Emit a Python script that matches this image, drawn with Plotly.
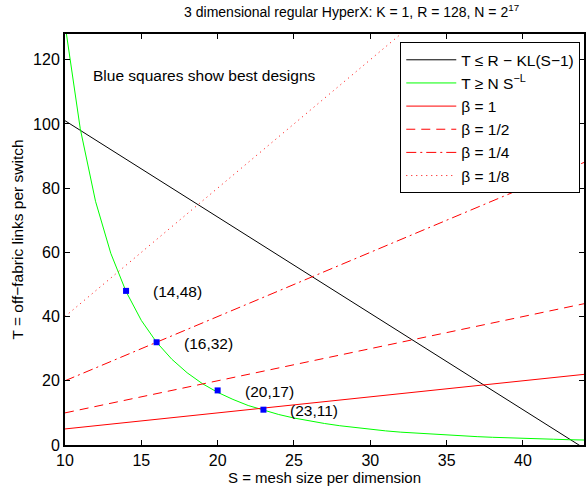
import plotly.graph_objects as go

# Data
S_vals = list(range(10, 45))
T_green = [131.1, 98.5, 75.9, 59.7, 47.8, 38.8, 32.0, 26.7, 22.5, 19.1, 16.4,
           14.2, 12.3, 10.8, 9.5, 8.4, 7.5, 6.7, 6.0, 5.4, 4.9, 4.4, 4.0, 3.7,
           3.3, 3.1, 2.8, 2.6, 2.4, 2.2, 2.05, 1.9, 1.8, 1.65, 1.55]
S_black = [10, 44]
T_black = [101, -1]
S_ends = [10, 44]
T_beta1 = [5, 22]
T_beta2 = [10, 44]
T_beta4 = [20, 88]
S_beta8 = [10, 32]
T_beta8 = [40, 128]
best_S = [14, 16, 20, 23]
best_T = [48, 32, 17, 11]
best_labels = ["(14,48)", "(16,32)", "(20,17)", "(23,11)"]

FONT = "Liberation Sans, Arial, sans-serif"

fig = go.Figure()
fig.add_trace(go.Scatter(x=S_black, y=T_black, mode="lines",
                         line=dict(color="black", width=1),
                         name="T \u2264 R \u2212 KL(S\u22121)"))
fig.add_trace(go.Scatter(x=S_vals, y=T_green, mode="lines",
                         line=dict(color="#00ff00", width=1),
                         name="T \u2265 N S<sup>\u2212L</sup>"))
fig.add_trace(go.Scatter(x=S_ends, y=T_beta1, mode="lines",
                         line=dict(color="#ff0000", width=1),
                         name="\u03b2 = 1"))
fig.add_trace(go.Scatter(x=S_ends, y=T_beta2, mode="lines",
                         line=dict(color="#ff0000", width=1, dash="9px,6px"),
                         name="\u03b2 = 1/2"))
fig.add_trace(go.Scatter(x=S_ends, y=T_beta4, mode="lines",
                         line=dict(color="#ff0000", width=1, dash="10px,4px,2px,4px"),
                         name="\u03b2 = 1/4"))
fig.add_trace(go.Scatter(x=S_beta8, y=T_beta8, mode="lines",
                         line=dict(color="#ff0000", width=1, dash="1px,4px"),
                         name="\u03b2 = 1/8"))
fig.add_trace(go.Scatter(x=best_S, y=best_T, mode="markers",
                         marker=dict(symbol="square", size=6, color="#0000ff"),
                         showlegend=False))

for sx, ty, lab in zip(best_S, best_T, best_labels):
    fig.add_annotation(x=sx, y=ty, text=lab, showarrow=False, xanchor="left",
                       yanchor="middle", xshift=25, yshift=-1,
                       font=dict(family=FONT, size=15.5, color="black"))

fig.add_annotation(x=11.7, y=115, text="Blue squares show best designs",
                   showarrow=False, xanchor="left", yanchor="middle",
                   font=dict(family=FONT, size=15.5, color="black"))

fig.update_layout(
    width=586, height=489,
    margin=dict(l=65, r=0, t=34, b=44),
    paper_bgcolor="white", plot_bgcolor="white",
    font=dict(family=FONT, size=15, color="black"),
    title=dict(text="3 dimensional regular HyperX: K = 1, R = 128, N = 2<sup>17</sup>",
               x=0.60, xanchor="center", y=0.975, yanchor="middle",
               font=dict(family=FONT, size=14, color="black")),
    legend=dict(x=0.646, y=0.98, xanchor="left", yanchor="top",
                bgcolor="white", bordercolor="black", borderwidth=1,
                font=dict(family=FONT, size=15.5, color="black"),
                itemwidth=50, tracegroupgap=0),
    showlegend=True,
)
fig.update_xaxes(range=[10, 44], tickvals=[10, 15, 20, 25, 30, 35, 40],
                 ticks="inside", ticklen=5, tickcolor="black",
                 showline=True, linecolor="black", linewidth=2, mirror="ticks",
                 showgrid=False, zeroline=False,
                 tickfont=dict(family=FONT, size=16),
                 title=dict(text="S = mesh size per dimension", standoff=2,
                            font=dict(family=FONT, size=15)))
fig.update_yaxes(range=[0, 128], tickvals=[0, 20, 40, 60, 80, 100, 120],
                 ticks="inside", ticklen=5, tickcolor="black",
                 showline=True, linecolor="black", linewidth=2, mirror="ticks",
                 showgrid=False, zeroline=False,
                 tickfont=dict(family=FONT, size=16),
                 title=dict(text="T = off\u2212fabric links per switch", standoff=6,
                            font=dict(family=FONT, size=15.5)))

fig.write_html("out.html")
